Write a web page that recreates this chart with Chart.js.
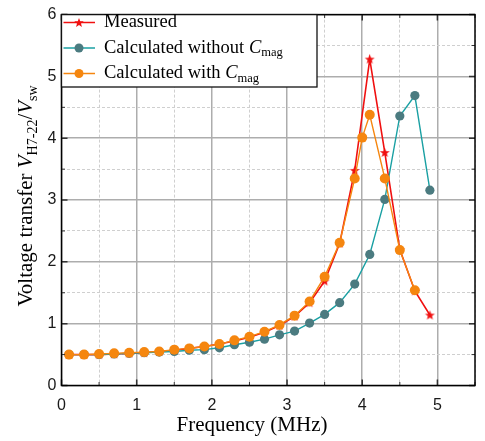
<!DOCTYPE html>
<html>
<head>
<meta charset="utf-8">
<script src="https://cdn.jsdelivr.net/npm/chart.js@4.4.0/dist/chart.umd.min.js"></script>
<style>
  html, body { margin: 0; padding: 0; background: #fff; }
  #wrap { width: 485px; height: 441px; }
</style>
</head>
<body>
<div id="wrap"><canvas id="chart" width="485" height="441"></canvas></div>
<script>
// frequency sweep, MHz
const freq = [0.1, 0.3, 0.5, 0.7, 0.9, 1.1, 1.3, 1.5, 1.7, 1.9, 2.1, 2.3, 2.5,
  2.7, 2.9, 3.1, 3.3, 3.5, 3.7, 3.9, 4.1, 4.3, 4.5, 4.7, 4.9];
const measured = [0.50, 0.50, 0.50, 0.51, 0.52, 0.53, 0.55, 0.57, 0.60, 0.63, 0.67, 0.72, 0.78,
  0.86, 0.97, 1.12, 1.34, 1.69, 2.30, 3.48, 5.28, 3.77, 2.20, 1.53, 1.14];
const calcWithout = [0.50, 0.50, 0.50, 0.51, 0.52, 0.53, 0.54, 0.55, 0.57, 0.58, 0.61, 0.66, 0.70,
  0.75, 0.82, 0.88, 1.01, 1.15, 1.34, 1.64, 2.12, 3.01, 4.36, 4.69, 3.16];
// the "with C_mag" run has an extra point at 4.0 and stops at 4.7
const freqWith = [0.1, 0.3, 0.5, 0.7, 0.9, 1.1, 1.3, 1.5, 1.7, 1.9, 2.1, 2.3, 2.5,
  2.7, 2.9, 3.1, 3.3, 3.5, 3.7, 3.9, 4.0, 4.1, 4.3, 4.5, 4.7];
const calcWith = [0.50, 0.50, 0.51, 0.52, 0.53, 0.54, 0.55, 0.58, 0.60, 0.63, 0.67, 0.73, 0.79,
  0.87, 0.98, 1.13, 1.36, 1.76, 2.31, 3.35, 4.01, 4.38, 3.35, 2.19, 1.54];

const xTickLabels = [0, 1, 2, 3, 4, 5];
const yTickLabels = [0, 1, 2, 3, 4, 5, 6];

const RED = '#f01010';
const TEAL_LINE = '#1aa0a3';
const TEAL_DOT = '#4b7b80';
const ORANGE = '#f5860f';

const SERIF = '"Liberation Serif", "Times New Roman", serif';
const SANS = '"Liberation Sans", Arial, sans-serif';

const pts = (xs, ys) => xs.map((x, i) => ({ x, y: ys[i] }));

function starPath(ctx, cx, cy, r) {
  const ri = r * 0.42;
  ctx.beginPath();
  for (let i = 0; i < 10; i++) {
    const rad = i % 2 ? ri : r;
    const a = -Math.PI / 2 + i * Math.PI / 5;
    const px = cx + rad * Math.cos(a), py = cy + rad * Math.sin(a);
    i ? ctx.lineTo(px, py) : ctx.moveTo(px, py);
  }
  ctx.closePath();
}

function makeStar(r, color) {
  const c = document.createElement('canvas');
  const s = Math.ceil(r * 2 + 2);
  c.width = s; c.height = s;
  const g = c.getContext('2d');
  g.fillStyle = color;
  starPath(g, s / 2, s / 2 + 0.4, r);
  g.fill();
  return c;
}
const starImg = makeStar(5.2, RED);

const isMajor = v => Math.abs(v - Math.round(v)) < 1e-6;

// draws a run of text pieces (italic / subscript) starting at x
function richWidth(ctx, parts) {
  let w = 0;
  parts.forEach(p => { ctx.font = p.font; w += ctx.measureText(p.t).width; });
  return w;
}
function drawRich(ctx, parts, x, y) {
  parts.forEach(p => {
    ctx.font = p.font;
    ctx.fillText(p.t, x, y + (p.dy || 0));
    x += ctx.measureText(p.t).width;
  });
}

const decor = {
  id: 'decor',
  afterDraw(chart) {
    const { ctx, chartArea: a, scales: { x, y } } = chart;
    ctx.save();

    // inward ticks on all four sides
    ctx.strokeStyle = '#333';
    for (let v = 0; v <= 5.5 + 1e-6; v += 0.5) {
      const px = x.getPixelForValue(v);
      const len = isMajor(v) ? 6 : 3.5;
      ctx.lineWidth = isMajor(v) ? 1.5 : 1;
      ctx.beginPath();
      ctx.moveTo(px, a.bottom); ctx.lineTo(px, a.bottom - len);
      ctx.moveTo(px, a.top); ctx.lineTo(px, a.top + len);
      ctx.stroke();
    }
    for (let v = 0; v <= 6 + 1e-6; v += 0.5) {
      const py = y.getPixelForValue(v);
      const len = isMajor(v) ? 6 : 3.5;
      ctx.lineWidth = isMajor(v) ? 1.5 : 1;
      ctx.beginPath();
      ctx.moveTo(a.left, py); ctx.lineTo(a.left + len, py);
      ctx.moveTo(a.right, py); ctx.lineTo(a.right - len, py);
      ctx.stroke();
    }

    // frame
    ctx.strokeStyle = '#000';
    ctx.lineWidth = 1.5;
    ctx.strokeRect(a.left, a.top, a.right - a.left, a.bottom - a.top);

    // legend box
    const lx = a.left, ly = a.top, lw = 317 - a.left, lh = 87 - a.top;
    ctx.fillStyle = '#fff';
    ctx.fillRect(lx, ly, lw, lh);
    ctx.strokeStyle = '#111';
    ctx.lineWidth = 1.3;
    ctx.strokeRect(lx, ly, lw, lh);

    const sub = '12.5px ' + SERIF;
    const reg = '18.5px ' + SERIF;
    const ita = 'italic 18.5px ' + SERIF;
    const rows = [
      { y: 22.5, line: RED, mark: 'star', parts: [{ t: 'Measured', font: reg }] },
      { y: 48, line: TEAL_LINE, mark: TEAL_DOT, parts: [
        { t: 'Calculated without ', font: reg }, { t: 'C', font: ita }, { t: 'mag', font: sub, dy: 5 }] },
      { y: 73.5, line: ORANGE, mark: ORANGE, parts: [
        { t: 'Calculated with ', font: reg }, { t: 'C', font: ita }, { t: 'mag', font: sub, dy: 5 }] }
    ];
    rows.forEach(r => {
      ctx.strokeStyle = r.line;
      ctx.lineWidth = 1.5;
      ctx.beginPath();
      ctx.moveTo(lx + 2, r.y); ctx.lineTo(95, r.y);
      ctx.stroke();
      if (r.mark === 'star') {
        ctx.fillStyle = RED;
        starPath(ctx, 79, r.y + 0.4, 5);
        ctx.fill();
      } else {
        ctx.fillStyle = r.mark;
        ctx.beginPath();
        ctx.arc(79, r.y, 4.5, 0, Math.PI * 2);
        ctx.fill();
      }
      ctx.fillStyle = '#000';
      ctx.textBaseline = 'middle';
      ctx.textAlign = 'left';
      drawRich(ctx, r.parts, 104, r.y);
    });

    // axis titles
    ctx.fillStyle = '#000';
    ctx.textBaseline = 'alphabetic';
    ctx.font = '21px ' + SERIF;
    ctx.textAlign = 'center';
    ctx.fillText('Frequency (MHz)', 252, 431);

    ctx.textAlign = 'left';
    const yParts = [
      { t: 'Voltage transfer ', font: '21px ' + SERIF },
      { t: 'V', font: 'italic 21px ' + SERIF },
      { t: 'H7-22', font: '14px ' + SERIF, dy: 5 },
      { t: '/', font: '21px ' + SERIF },
      { t: 'V', font: 'italic 21px ' + SERIF },
      { t: 'sw', font: '14px ' + SERIF, dy: 5 }
    ];
    const w = richWidth(ctx, yParts);
    ctx.translate(32, 196);
    ctx.rotate(-Math.PI / 2);
    drawRich(ctx, yParts, -w / 2, 0);

    ctx.restore();
  }
};

const gridOpts = {
  color: c => isMajor(c.tick.value) ? '#adadad' : '#cfcfcf',
  lineWidth: c => isMajor(c.tick.value) ? 1.5 : 1,
  drawTicks: false
};
const borderOpts = {
  display: false,
  dash: c => isMajor(c.tick.value) ? [] : [3, 2]
};

new Chart(document.getElementById('chart'), {
  type: 'line',
  data: {
    datasets: [
      {
        label: 'Measured',
        data: pts(freq, measured),
        borderColor: RED,
        borderWidth: 1.6,
        pointStyle: starImg,
        order: 2
      },
      {
        label: 'Calculated without Cmag',
        data: pts(freq, calcWithout),
        borderColor: TEAL_LINE,
        borderWidth: 1.4,
        pointBackgroundColor: TEAL_DOT,
        pointBorderColor: TEAL_DOT,
        pointBorderWidth: 0,
        pointRadius: 4.6,
        order: 1
      },
      {
        label: 'Calculated with Cmag',
        data: pts(freqWith, calcWith),
        borderColor: ORANGE,
        borderWidth: 1.4,
        pointBackgroundColor: ORANGE,
        pointBorderColor: ORANGE,
        pointBorderWidth: 0,
        pointRadius: 5,
        order: 0
      }
    ]
  },
  options: {
    responsive: false,
    animation: false,
    layout: { padding: { top: 13.5, right: 0, left: 0, bottom: 0 } },
    plugins: { legend: { display: false }, tooltip: { enabled: false } },
    elements: { line: { tension: 0 } },
    scales: {
      x: {
        type: 'linear',
        min: 0, max: 5.5,
        afterFit: s => { s.height = 55.5; },
        ticks: {
          stepSize: 0.5, autoSkip: false, maxRotation: 0, padding: 10,
          color: '#1a1a1a', font: { family: SANS, size: 16 },
          callback: v => xTickLabels.includes(v) ? String(v) : ''
        },
        grid: gridOpts,
        border: borderOpts
      },
      y: {
        min: 0, max: 6,
        afterFit: s => { s.width = 61.5; },
        ticks: {
          stepSize: 0.5, autoSkip: false, padding: 5,
          color: '#1a1a1a', font: { family: SANS, size: 16 },
          callback: v => yTickLabels.includes(v) ? String(v) : ''
        },
        grid: gridOpts,
        border: borderOpts
      }
    }
  },
  plugins: [decor]
});
</script>
</body>
</html>
